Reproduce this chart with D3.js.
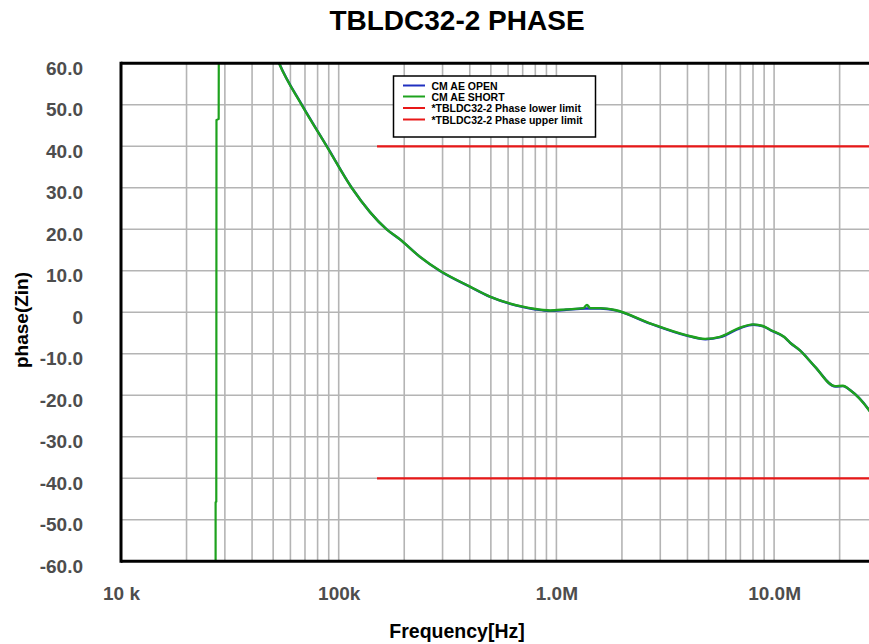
<!DOCTYPE html>
<html>
<head>
<meta charset="utf-8">
<script src="https://cdn.jsdelivr.net/npm/d3@7"></script>
<style>
  html, body { margin: 0; padding: 0; background: #fff; }
  svg { display: block; font-family: "Liberation Sans", Arial, sans-serif; }
</style>
</head>
<body>
<svg id="chart" width="869" height="644"></svg>
<script>
// ---------- data ----------
const chartTitle = "TBLDC32-2 PHASE";
const xTitle = "Frequency[Hz]";
const yTitle = "phase(Zin)";
const xTickValues = [1e4, 1e5, 1e6, 1e7];
const xTickLabels = ["10 k", "100k", "1.0M", "10.0M"];
const yTickValues = [60, 50, 40, 30, 20, 10, 0, -10, -20, -30, -40, -50, -60];
const yTickLabels = ["60.0", "50.0", "40.0", "30.0", "20.0", "10.0", "0", "-10.0", "-20.0", "-30.0", "-40.0", "-50.0", "-60.0"];
const seriesNames = ["CM AE OPEN", "CM AE SHORT", "*TBLDC32-2 Phase lower limit", "*TBLDC32-2 Phase upper limit"];

// [frequency Hz, phase deg]
const cmAeOpen = [
  [48000, 66], [53200, 60], [67600, 50], [88100, 40], [114700, 30], [166000, 20], [191000, 17.6],
  [236000, 13.4], [292000, 10], [401000, 6.2], [495000, 3.8], [702000, 1.35],
  [868000, 0.55], [935000, 0.45], [1107000, 0.7], [1360000, 1.0], [1586000, 1.0],
  [1858000, 0.55], [2690000, -2.65], [3940000, -5.5], [4820000, -6.4], [5640000, -5.9],
  [6970000, -3.7], [8000000, -2.9], [8890000, -3.3], [9580000, -4.2], [11100000, -5.9],
  [11830000, -7.3], [13100000, -9.1], [15400000, -13.1], [19050000, -17.8], [20700000, -17.7],
  [22300000, -18.7], [27300000, -23.6], [30000000, -27]
];
// resonance sweep (drawn as straight segments)
const cmAeShortResonance = [
  [27200, -70], [27200, -45.8], [27400, -45.6], [27450, 46.3], [28100, 46.6], [28150, 70],
  [30000, 88], [40000, 78], [48000, 66]
];
const cmAeShort = [
  [48000, 66], [53200, 60], [67600, 50], [88100, 40], [114700, 30], [166000, 20], [191000, 17.6],
  [236000, 13.4], [292000, 10], [401000, 6.2], [495000, 3.8], [702000, 1.35],
  [868000, 0.55], [935000, 0.45], [1107000, 0.7], [1330000, 1.0], [1382000, 1.8],
  [1430000, 1.0], [1586000, 1.0], [1858000, 0.55], [2690000, -2.65], [3940000, -5.5],
  [4820000, -6.4], [5640000, -5.9], [6970000, -3.7], [8000000, -2.9], [8890000, -3.3],
  [9580000, -4.2], [11100000, -5.9], [11830000, -7.3], [13100000, -9.1], [15400000, -13.1],
  [19050000, -17.8], [20700000, -17.7], [22300000, -18.7], [27300000, -23.6], [30000000, -27]
];
const lowerLimit = [[150000, -40], [30000000, -40]];
const upperLimit = [[150000, 40], [30000000, 40]];

// ---------- layout ----------
const svg = d3.select("#chart");
const pLeft = 121, pTop = 63.3, pBottom = 561.3;
const decade = 217.7;
const pRight = pLeft + decade * Math.log10(3e7 / 1e4);

const x = d3.scaleLog().domain([1e4, 3e7]).range([pLeft, pRight]);
const y = d3.scaleLinear().domain([-60, 60]).range([pBottom, pTop]);

svg.append("defs").append("clipPath").attr("id", "plotclip")
  .append("rect").attr("x", pLeft).attr("y", pTop).attr("width", pRight - pLeft).attr("height", pBottom - pTop);

// grid
const gridX = [];
for (let e = 4; e <= 7; e++) for (let k = 1; k <= 9; k++) {
  const v = k * Math.pow(10, e);
  if (v > 1e4 && v <= 3e7) gridX.push(v);
}
const grid = svg.append("g").attr("stroke", "#b4b4b4").attr("stroke-width", 1.6);
grid.selectAll("line.vx").data(gridX).join("line")
  .attr("x1", d => x(d)).attr("x2", d => x(d)).attr("y1", pTop).attr("y2", pBottom);
grid.selectAll("line.hy").data(yTickValues.filter(v => v > -60 && v < 60)).join("line")
  .attr("x1", pLeft).attr("x2", pRight).attr("y1", d => y(d)).attr("y2", d => y(d));

// series
const lineStraight = d3.line().x(d => x(d[0])).y(d => y(d[1]));
const lineSmooth = d3.line().x(d => x(d[0])).y(d => y(d[1])).curve(d3.curveMonotoneX);
const plot = svg.append("g").attr("clip-path", "url(#plotclip)");
plot.append("path").datum(upperLimit).attr("d", lineStraight).attr("fill", "none").attr("stroke", "#e81818").attr("stroke-width", 2.2);
plot.append("path").datum(lowerLimit).attr("d", lineStraight).attr("fill", "none").attr("stroke", "#e81818").attr("stroke-width", 2.2);
plot.append("path").datum(cmAeOpen).attr("d", lineSmooth).attr("fill", "none").attr("stroke", "#2030c0").attr("stroke-width", 2.4)
  .attr("transform", "translate(0.4,0.4)");
plot.append("path").datum(cmAeShortResonance).attr("d", lineStraight).attr("fill", "none").attr("stroke", "#1ea21e").attr("stroke-width", 2.2);
plot.append("path").datum(cmAeShort).attr("d", lineSmooth).attr("fill", "none").attr("stroke", "#1ea21e").attr("stroke-width", 2.4)
  .attr("stroke-linejoin", "round");

// frame
svg.append("line").attr("x1", pLeft).attr("x2", pLeft).attr("y1", pTop - 1.5).attr("y2", pBottom + 1.5).attr("stroke", "#000").attr("stroke-width", 3);
svg.append("line").attr("x1", pLeft).attr("x2", 869).attr("y1", pTop).attr("y2", pTop).attr("stroke", "#000").attr("stroke-width", 3);
svg.append("line").attr("x1", pLeft).attr("x2", 869).attr("y1", pBottom).attr("y2", pBottom).attr("stroke", "#000").attr("stroke-width", 3);

// axes (labels only)
const xAxis = d3.axisBottom(x).tickValues(xTickValues)
  .tickFormat((d, i) => xTickLabels[i]).tickSize(0).tickPadding(0);
const gx = svg.append("g").attr("transform", `translate(0,${pBottom})`).call(xAxis);
gx.select(".domain").remove();
gx.selectAll("text").attr("dy", null).attr("y", 39).attr("font-size", 19).attr("font-weight", "bold")
  .attr("fill", "#4d4d4d").attr("font-family", "'Liberation Sans', Arial, sans-serif");

const yAxis = d3.axisLeft(y).tickValues(yTickValues)
  .tickFormat((d, i) => yTickLabels[i]).tickSize(0).tickPadding(38);
const gy = svg.append("g").attr("transform", `translate(${pLeft},0)`).call(yAxis);
gy.select(".domain").remove();
gy.selectAll("text").attr("dy", "11").attr("font-size", 19).attr("font-weight", "bold")
  .attr("fill", "#4d4d4d").attr("font-family", "'Liberation Sans', Arial, sans-serif");

// titles
svg.append("text").attr("x", 457).attr("y", 30).attr("text-anchor", "middle")
  .attr("font-size", 28).attr("font-weight", "bold").attr("fill", "#000").text(chartTitle);
svg.append("text").attr("x", 457).attr("y", 638).attr("text-anchor", "middle")
  .attr("font-size", 19.5).attr("font-weight", "bold").attr("fill", "#000").text(xTitle);
svg.append("text").attr("transform", "translate(28,320) rotate(-90)").attr("text-anchor", "middle")
  .attr("font-size", 19).attr("font-weight", "bold").attr("fill", "#000").text(yTitle);

// legend
const legColors = ["#2030c0", "#1ea21e", "#e81818", "#e81818"];
const lg = svg.append("g");
lg.append("rect").attr("x", 393.5).attr("y", 76).attr("width", 202).attr("height", 61)
  .attr("fill", "#fff").attr("stroke", "#000").attr("stroke-width", 1.5);
const legY = [85.5, 96.5, 108, 119.5];
seriesNames.forEach((n, i) => {
  lg.append("line").attr("x1", 403).attr("x2", 425).attr("y1", legY[i]).attr("y2", legY[i])
    .attr("stroke", legColors[i]).attr("stroke-width", 2);
  lg.append("text").attr("x", 431.5).attr("y", legY[i] + 4).attr("font-size", 10.5)
    .attr("font-weight", "bold").attr("fill", "#000").text(n);
});
</script>
</body>
</html>
